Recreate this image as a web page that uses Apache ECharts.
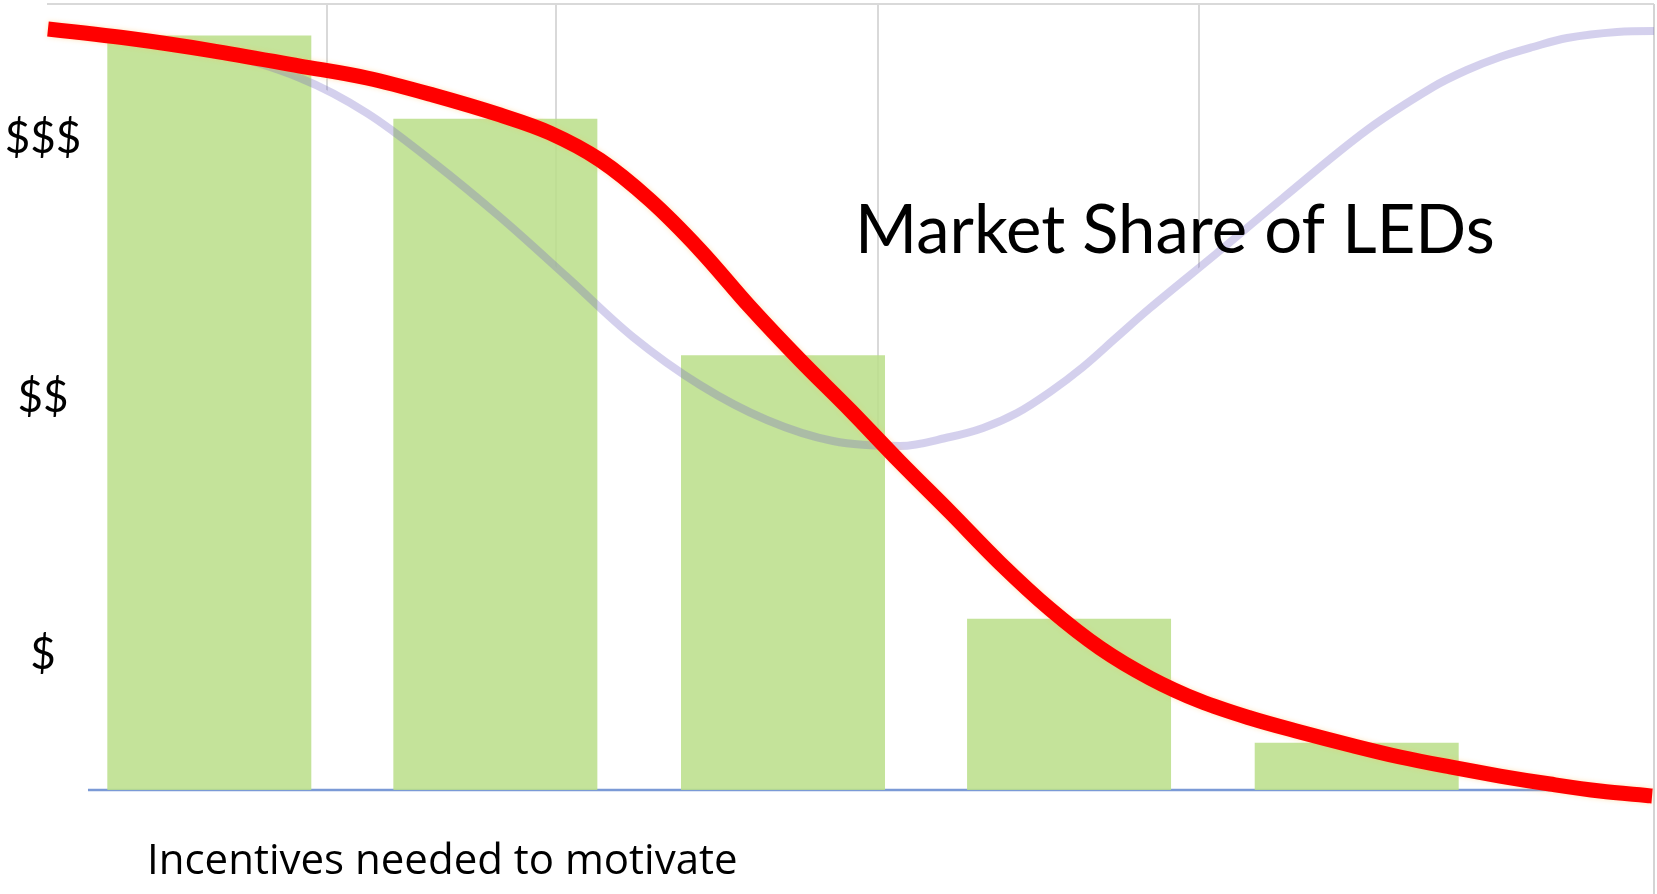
<!DOCTYPE html>
<html>
<head>
<meta charset="utf-8">
<script src="https://cdn.jsdelivr.net/npm/echarts@6/dist/echarts.min.js"></script>
<style>
html,body{margin:0;padding:0;background:#fff;}
#chart{width:1657px;height:894px;}
</style>
</head>
<body>
<div id="chart"></div>
<script>
// ---- data (x: 0..100 horizontal units, y: 0 = baseline, 100 = top) ----
const barX = [10.1, 27.9, 45.8, 63.6, 81.5];
const barValues = [96.0, 85.4, 55.3, 21.8, 6.0];

const tickLabels = ['$', '$$', '$$$'];
const tickValues = [17.2, 49.9, 82.8];

const incentiveX = [0.06, 5.16, 10.21, 15.74, 19.91, 24.02, 28.19, 31.30, 34.41, 37.52, 40.64, 43.75, 46.86, 49.97, 53.08, 56.19, 59.30, 62.41, 65.53, 68.64, 71.75, 74.86, 77.97, 81.08, 84.19, 87.31, 90.42, 93.53, 96.64, 99.88];
const incentiveY = [96.82, 95.61, 94.08, 92.11, 90.59, 88.42, 85.88, 83.59, 80.15, 75.06, 68.70, 61.45, 54.71, 48.35, 41.73, 35.37, 28.88, 23.03, 18.07, 14.25, 11.32, 9.16, 7.38, 5.73, 4.20, 2.93, 1.78, 0.76, -0.13, -0.76];

const shareX = [6.41, 10.21, 15.74, 19.91, 24.02, 28.19, 32.36, 36.47, 40.64, 44.80, 48.91, 53.08, 56.19, 58.25, 60.36, 62.41, 64.47, 66.58, 68.64, 72.81, 76.91, 82.14, 86.25, 88.36, 90.42, 92.47, 94.59, 97.70, 100.0];
const shareY = [95.42, 94.15, 90.59, 86.13, 79.90, 72.90, 65.27, 57.63, 51.53, 47.07, 44.40, 43.77, 44.91, 46.06, 47.96, 50.64, 53.82, 57.63, 61.32, 68.32, 75.32, 83.97, 89.44, 91.60, 93.26, 94.53, 95.67, 96.44, 96.56];

const gridLineX = [17.42, 31.67, 51.71, 71.69];
const baselineSpan = [2.55, 96.6];

const titleText = 'Market Share of LEDs';
const axisTitle = 'Incentives needed to motivate';

// ---- build ----
const zip = (xs, ys) => xs.map((x, i) => [x, ys[i]]);
const FONT = 'Lato';
const SMOOTH = 0.35;

const chart = echarts.init(document.getElementById('chart'), null, {renderer: 'canvas'});
const option = {
  backgroundColor: '#ffffff',
  animation: false,
  title: [
    {text: titleText, left: 855, top: 198, padding: 0, z: 20,
     textStyle: {fontFamily: FONT, fontSize: 67, fontWeight: 'normal', color: '#000'}},
    {text: axisTitle, left: 147, top: 841, padding: 0, z: 20,
     textStyle: {fontFamily: 'Open Sans', fontSize: 42, fontWeight: 'normal', color: '#000'}}
  ],
  grid: {left: 47, right: 3, top: 4, bottom: 0, containLabel: false},
  xAxis: {
    type: 'value', min: 0, max: 100,
    axisLine: {show: false}, axisTick: {show: false},
    axisLabel: {show: false}, splitLine: {show: false}
  },
  yAxis: {
    type: 'value', min: -13.23, max: 100,
    axisLine: {show: false}, axisTick: {show: false}, splitLine: {show: false},
    axisLabel: {
      customValues: tickValues,
      align: 'center', margin: 4,
      fontFamily: FONT, fontSize: 44, color: '#000',
      formatter: function (v) {
        let best = 0;
        tickValues.forEach((t, i) => { if (Math.abs(t - v) < Math.abs(tickValues[best] - v)) best = i; });
        return tickLabels[best];
      }
    }
  },
  series: [
    { // background gridlines
      type: 'line', data: [], z: 1, silent: true,
      markLine: {
        silent: true, symbol: 'none', label: {show: false}, z: 1,
        lineStyle: {color: '#d9d9d9', width: 2, type: 'solid'},
        data: gridLineX.map(v => ({xAxis: v})).concat([{yAxis: 100}])
      }
    },
    { // white area under the market-share curve (hides gridlines below it)
      type: 'line', data: zip(shareX, shareY), z: 2, silent: true,
      smooth: SMOOTH, symbol: 'none',
      lineStyle: {width: 0, opacity: 0},
      areaStyle: {color: '#ffffff', opacity: 1, origin: 'start'}
    },
    { // right frame
      type: 'line', data: [], z: 3, silent: true,
      markLine: {
        silent: true, symbol: 'none', label: {show: false}, z: 3,
        lineStyle: {color: '#d4d4d4', width: 2, type: 'solid'},
        data: [{xAxis: 100}]
      }
    },
    { // baseline
      type: 'line', data: baselineSpan.map(x => [x, 0]), z: 3, silent: true,
      symbol: 'none', lineStyle: {color: '#7b9ad6', width: 2.5}
    },
    {
      type: 'bar', data: zip(barX, barValues), z: 4, barWidth: 204,
      itemStyle: {color: 'rgba(186,222,137,0.86)'}
    },
    { // market share of LEDs
      type: 'line', data: zip(shareX, shareY), z: 5,
      smooth: SMOOTH, symbol: 'none',
      lineStyle: {color: 'rgba(112,100,195,0.3)', width: 8}
    },
    { // incentives
      type: 'line', data: zip(incentiveX, incentiveY), z: 6,
      smooth: SMOOTH, symbol: 'none',
      lineStyle: {color: '#ff0000', width: 15, cap: 'butt',
        shadowColor: 'rgba(255,190,90,0.45)', shadowBlur: 5}
    }
  ]
};
chart.setOption(option);
</script>
</body>
</html>
